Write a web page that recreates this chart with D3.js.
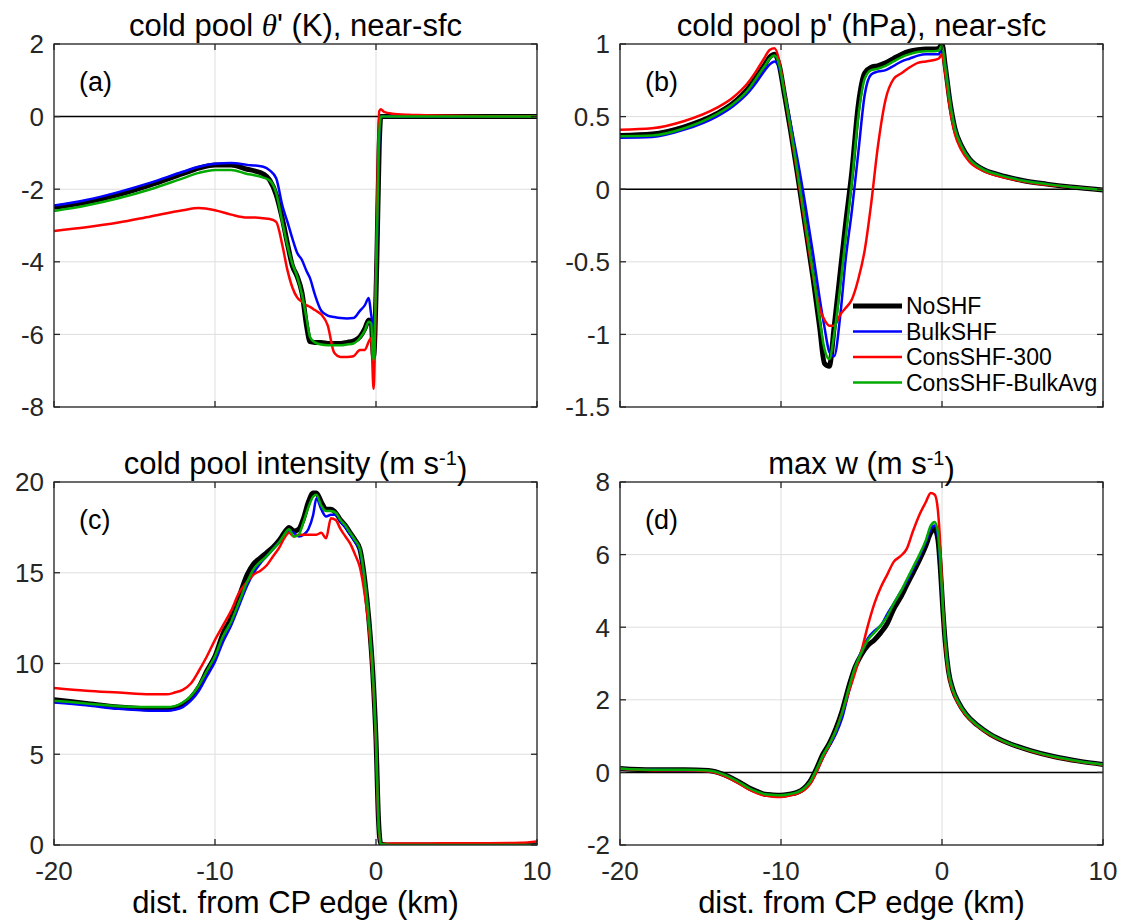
<!DOCTYPE html>
<html>
<head>
<meta charset="utf-8">
<script src="https://cdn.jsdelivr.net/npm/d3@7"></script>
<style>
  body { margin: 0; background: #fff; }
  text { font-family: "Liberation Sans", Arial, Helvetica, sans-serif; fill: #000; }
</style>
</head>
<body>
<script>
// series names / colors
const seriesNames = ['NoSHF', 'BulkSHF', 'ConsSHF-300', 'ConsSHF-BulkAvg'];
const seriesColors = ['#000000', '#0000ff', '#ff0000', '#00aa00'];
const seriesWidths = [5, 2.5, 2.5, 2.5];

// (a) near-surface theta'
const xA = [-20, -18, -16, -14, -12, -11, -10, -9, -8, -7.5, -7, -6.6, -6.2, -5.8, -5.5, -5.2, -4.9, -4.6, -4.3, -4.1, -3.8, -3.4, -3.0, -2.6, -2.2, -1.8, -1.4, -1.0, -0.7, -0.45, -0.3, -0.15, 0.05, 0.2, 0.3, 0.5, 1, 2, 3, 5, 7, 10];
const aNoSHF = [-2.5, -2.36, -2.15, -1.88, -1.57, -1.42, -1.33, -1.33, -1.45, -1.5, -1.58, -1.75, -2.15, -2.85, -3.5, -4.1, -4.4, -4.85, -5.8, -6.2, -6.22, -6.22, -6.25, -6.25, -6.25, -6.22, -6.18, -6.07, -5.85, -5.6, -5.65, -6.6, -4.0, -0.8, 0, 0, 0, 0, 0, 0, 0, 0];
const aBulk = [-2.45, -2.3, -2.08, -1.82, -1.52, -1.38, -1.3, -1.28, -1.33, -1.35, -1.38, -1.48, -1.7, -2.48, -2.9, -3.35, -3.75, -3.95, -4.27, -4.45, -4.9, -5.35, -5.48, -5.52, -5.55, -5.56, -5.55, -5.35, -5.2, -5.0, -5.45, -5.8, -3.5, -0.6, 0, 0, 0, 0, 0, 0, 0, 0];
const aCons300 = [-3.15, -3.05, -2.92, -2.75, -2.58, -2.52, -2.58, -2.7, -2.78, -2.78, -2.8, -2.82, -2.9, -3.58, -4.23, -4.7, -4.98, -5.1, -5.2, -5.24, -5.33, -5.45, -5.75, -6.5, -6.62, -6.62, -6.6, -6.43, -6.43, -6.2, -6.1, -7.5, -3.0, 0.15, 0.2, 0.13, 0.08, 0.05, 0.04, 0.02, 0.01, 0.01];
const aConsAvg = [-2.6, -2.45, -2.25, -2.0, -1.7, -1.55, -1.47, -1.47, -1.58, -1.62, -1.68, -1.76, -2.1, -2.94, -3.55, -4.05, -4.4, -4.9, -5.6, -6.07, -6.22, -6.28, -6.3, -6.3, -6.3, -6.28, -6.25, -6.1, -5.9, -5.65, -5.7, -6.7, -3.5, -0.5, 0, 0, 0, 0, 0, 0, 0, 0];

// (b) near-surface p'
const xB = [-20, -18, -16, -14, -13, -12, -11.5, -11, -10.7, -10.4, -10.1, -9.8, -9.4, -9, -8.5, -8, -7.6, -7.3, -7.0, -6.7, -6.3, -6.0, -5.6, -5.2, -4.8, -4.4, -4.0, -3.5, -3.0, -2.5, -2.0, -1.5, -1.0, -0.5, -0.2, 0, 0.2, 0.5, 0.8, 1.2, 1.7, 2.5, 3.5, 5, 6.5, 8, 10];
const bNoSHF = [0.37, 0.38, 0.43, 0.52, 0.59, 0.7, 0.78, 0.86, 0.91, 0.93, 0.85, 0.66, 0.4, 0.12, -0.25, -0.62, -0.95, -1.2, -1.22, -0.95, -0.55, -0.25, 0.12, 0.58, 0.8, 0.84, 0.85, 0.87, 0.9, 0.93, 0.95, 0.96, 0.965, 0.965, 0.97, 1.0, 0.85, 0.6, 0.42, 0.3, 0.21, 0.14, 0.1, 0.06, 0.035, 0.015, -0.005];
const bBulk = [0.355, 0.36, 0.41, 0.5, 0.57, 0.67, 0.74, 0.82, 0.86, 0.88, 0.83, 0.68, 0.45, 0.22, -0.1, -0.45, -0.75, -0.95, -1.12, -1.15, -0.85, -0.5, -0.15, 0.25, 0.65, 0.79, 0.81, 0.82, 0.85, 0.88, 0.9, 0.92, 0.93, 0.93, 0.93, 0.98, 0.85, 0.6, 0.42, 0.3, 0.21, 0.14, 0.1, 0.06, 0.035, 0.015, -0.005];
const bCons300 = [0.41, 0.42, 0.47, 0.56, 0.63, 0.74, 0.82, 0.91, 0.96, 0.97, 0.88, 0.68, 0.4, 0.12, -0.25, -0.6, -0.82, -0.9, -0.94, -0.94, -0.86, -0.82, -0.76, -0.62, -0.42, -0.1, 0.28, 0.62, 0.76, 0.8, 0.84, 0.87, 0.88, 0.89, 0.9, 0.93, 0.8, 0.55, 0.38, 0.27, 0.19, 0.13, 0.09, 0.055, 0.03, 0.015, -0.005];
const bConsAvg = [0.365, 0.37, 0.42, 0.515, 0.585, 0.69, 0.77, 0.85, 0.9, 0.92, 0.85, 0.67, 0.42, 0.14, -0.22, -0.58, -0.9, -1.1, -1.17, -1.0, -0.65, -0.35, 0.05, 0.5, 0.76, 0.82, 0.83, 0.85, 0.88, 0.91, 0.93, 0.945, 0.95, 0.95, 0.955, 0.99, 0.85, 0.6, 0.42, 0.3, 0.21, 0.14, 0.1, 0.06, 0.035, 0.015, -0.005];

// (c) cold pool intensity
const xC = [-20, -18, -16, -14, -13, -12.5, -12, -11.5, -11, -10.5, -10, -9.5, -9, -8.5, -8, -7.6, -7.2, -6.8, -6.4, -6.0, -5.7, -5.4, -5.1, -4.8, -4.5, -4.2, -3.9, -3.7, -3.4, -3.1, -2.8, -2.5, -2.2, -1.9, -1.6, -1.3, -1.0, -0.7, -0.45, -0.2, 0, 0.15, 0.3, 1, 3, 5, 7, 9, 10];
const cNoSHF = [8.0, 7.8, 7.6, 7.5, 7.5, 7.55, 7.75, 8.1, 8.7, 9.6, 10.4, 11.65, 12.5, 13.7, 14.9, 15.5, 15.8, 16.1, 16.4, 16.8, 17.2, 17.5, 17.3, 17.4, 18.0, 18.9, 19.4, 19.4, 18.9, 18.5, 18.5, 18.3, 17.9, 17.6, 17.2, 16.8, 16.3, 14.6, 12.5, 9.5, 5.8, 1.5, 0.05, 0, 0, 0, 0, 0, 0];
const cBulk = [7.85, 7.7, 7.5, 7.4, 7.4, 7.45, 7.6, 7.95, 8.5, 9.3, 10.1, 11.2, 12.1, 13.2, 14.3, 15.0, 15.5, 15.9, 16.3, 16.7, 17.0, 17.3, 17.2, 17.0, 17.1, 17.4, 18.2, 19.1, 18.5, 18.1, 18.2, 18.2, 17.8, 17.5, 17.1, 16.7, 16.2, 14.5, 12.4, 9.4, 5.6, 1.2, 0, 0, 0, 0, 0, 0, 0];
const cCons300 = [8.65, 8.5, 8.4, 8.3, 8.3, 8.4, 8.55, 8.9, 9.6, 10.4, 11.3, 12.1, 12.9, 13.9, 14.5, 14.9, 15.1, 15.4, 15.9, 16.4, 16.9, 17.2, 17.0, 17.1, 17.1, 17.1, 17.1, 17.1, 17.2, 16.9, 18.0, 17.9, 17.4, 17.0, 16.6, 16.0, 15.3, 13.8, 12.0, 9.2, 5.5, 1.2, 0.05, 0.08, 0.08, 0.1, 0.1, 0.12, 0.2];
const cConsAvg = [7.95, 7.8, 7.65, 7.6, 7.6, 7.65, 7.85, 8.2, 8.8, 9.6, 10.4, 11.5, 12.3, 13.4, 14.5, 15.2, 15.6, 15.9, 16.3, 16.7, 17.1, 17.4, 17.0, 17.1, 17.8, 18.6, 19.2, 19.3, 18.7, 18.4, 18.4, 18.3, 17.9, 17.6, 17.2, 16.8, 16.3, 14.6, 12.5, 9.5, 5.8, 1.5, 0.05, 0, 0, 0, 0, 0, 0];

// (d) max w
const xD = [-20, -18, -16, -14.5, -13.5, -12.75, -12, -11.5, -11, -10.5, -10, -9.5, -9, -8.6, -8.2, -7.8, -7.4, -7, -6.6, -6.2, -5.8, -5.4, -5.0, -4.6, -4.2, -3.8, -3.4, -3.0, -2.6, -2.2, -1.8, -1.4, -1.0, -0.7, -0.45, -0.25, -0.1, 0.05, 0.2, 0.4, 0.7, 1.0, 1.5, 2.2, 3, 4, 5.5, 7, 8.5, 10];
const dNoSHF = [0.11, 0.07, 0.07, 0.05, -0.07, -0.23, -0.42, -0.52, -0.6, -0.62, -0.63, -0.6, -0.55, -0.45, -0.25, 0.1, 0.5, 0.8, 1.2, 1.7, 2.35, 2.9, 3.25, 3.5, 3.65, 3.85, 4.1, 4.5, 4.8, 5.15, 5.5, 5.85, 6.25, 6.6, 6.7, 6.4, 5.6, 4.5, 3.6, 2.8, 2.25, 1.95, 1.6, 1.3, 1.05, 0.83, 0.6, 0.43, 0.31, 0.22];
const dBulk = [0.1, 0.07, 0.06, 0.04, -0.08, -0.25, -0.44, -0.54, -0.61, -0.63, -0.64, -0.61, -0.56, -0.47, -0.3, 0.02, 0.4, 0.72, 1.05, 1.5, 2.2, 2.85, 3.35, 3.7, 3.9, 4.05, 4.36, 4.65, 4.95, 5.25, 5.6, 5.95, 6.35, 6.7, 6.8, 6.5, 5.7, 4.55, 3.65, 2.8, 2.25, 1.95, 1.6, 1.3, 1.05, 0.83, 0.6, 0.43, 0.31, 0.22];
const dCons300 = [0.1, 0.06, 0.06, 0.03, -0.1, -0.27, -0.47, -0.57, -0.64, -0.67, -0.68, -0.64, -0.58, -0.5, -0.33, 0.0, 0.4, 0.75, 1.15, 1.65, 2.2, 2.75, 3.35, 4.05, 4.65, 5.1, 5.45, 5.8, 5.95, 6.15, 6.65, 7.1, 7.45, 7.7, 7.65, 7.2, 6.2, 4.6, 3.5, 2.7, 2.2, 1.9, 1.57, 1.28, 1.03, 0.82, 0.59, 0.42, 0.3, 0.21];
const dConsAvg = [0.11, 0.07, 0.07, 0.05, -0.07, -0.23, -0.43, -0.53, -0.6, -0.62, -0.63, -0.6, -0.55, -0.45, -0.26, 0.08, 0.47, 0.78, 1.15, 1.65, 2.3, 2.9, 3.3, 3.65, 3.85, 4.05, 4.3, 4.65, 4.95, 5.3, 5.65, 6.0, 6.4, 6.8, 6.9, 6.6, 5.75, 4.6, 3.65, 2.8, 2.25, 1.95, 1.6, 1.3, 1.05, 0.83, 0.6, 0.43, 0.31, 0.22];

const xTicks = [-20, -10, 0, 10];

const W = 1123, H = 921;
const svg = d3.select('body').append('svg')
  .attr('width', W).attr('height', H)
  .style('background', '#fff');

const panels = [
  { id: 'a', left: 54, right: 537, top: 44, bottom: 407, ydom: [-8, 2], yticks: [-8, -6, -4, -2, 0, 2],
    x: xA, ys: [aNoSHF, aBulk, aCons300, aConsAvg], zero: true, xlab: false },
  { id: 'b', left: 620, right: 1103, top: 44, bottom: 407, ydom: [-1.5, 1], yticks: [-1.5, -1, -0.5, 0, 0.5, 1],
    x: xB, ys: [bNoSHF, bBulk, bCons300, bConsAvg], zero: true, xlab: false, legend: true },
  { id: 'c', left: 54, right: 537, top: 482, bottom: 845, ydom: [0, 20], yticks: [0, 5, 10, 15, 20],
    x: xC, ys: [cNoSHF, cBulk, cCons300, cConsAvg], zero: false, xlab: true },
  { id: 'd', left: 620, right: 1103, top: 482, bottom: 845, ydom: [-2, 8], yticks: [-2, 0, 2, 4, 6, 8],
    x: xD, ys: [dNoSHF, dBulk, dCons300, dConsAvg], zero: true, xlab: true }
];

const axisColor = '#262626';
const gridColor = '#dedede';
const tickLen = 6;

panels.forEach((p) => {
  const xScale = d3.scaleLinear().domain([-20, 10]).range([p.left, p.right]);
  const yScale = d3.scaleLinear().domain(p.ydom).range([p.bottom, p.top]);
  const g = svg.append('g').attr('class', 'panel-' + p.id);

  g.append('clipPath').attr('id', 'clip-' + p.id)
    .append('rect')
    .attr('x', p.left).attr('y', p.top)
    .attr('width', p.right - p.left).attr('height', p.bottom - p.top);

  // grid
  g.selectAll('.gx').data(xTicks).enter().append('line')
    .attr('x1', (d) => xScale(d)).attr('x2', (d) => xScale(d))
    .attr('y1', p.top).attr('y2', p.bottom)
    .attr('stroke', gridColor).attr('stroke-width', 1);
  g.selectAll('.gy').data(p.yticks).enter().append('line')
    .attr('x1', p.left).attr('x2', p.right)
    .attr('y1', (d) => yScale(d)).attr('y2', (d) => yScale(d))
    .attr('stroke', gridColor).attr('stroke-width', 1);

  if (p.zero) {
    g.append('line')
      .attr('x1', p.left).attr('x2', p.right)
      .attr('y1', yScale(0)).attr('y2', yScale(0))
      .attr('stroke', '#000').attr('stroke-width', 1.5);
  }

  // data lines
  const plot = g.append('g').attr('clip-path', 'url(#clip-' + p.id + ')');
  p.ys.forEach((ys, i) => {
    const line = d3.line()
      .x((d, j) => xScale(p.x[j]))
      .y((d) => yScale(d))
      .curve(d3.curveMonotoneX);
    plot.append('path')
      .datum(ys)
      .attr('d', line)
      .attr('fill', 'none')
      .attr('stroke', seriesColors[i])
      .attr('stroke-width', seriesWidths[i])
      .attr('stroke-linejoin', 'round');
  });

  // box and inward ticks
  g.append('rect')
    .attr('x', p.left).attr('y', p.top)
    .attr('width', p.right - p.left).attr('height', p.bottom - p.top)
    .attr('fill', 'none').attr('stroke', axisColor).attr('stroke-width', 1.3);

  xTicks.forEach((t) => {
    const x = xScale(t);
    g.append('line').attr('x1', x).attr('x2', x).attr('y1', p.bottom).attr('y2', p.bottom - tickLen)
      .attr('stroke', axisColor).attr('stroke-width', 1.3);
    g.append('line').attr('x1', x).attr('x2', x).attr('y1', p.top).attr('y2', p.top + tickLen)
      .attr('stroke', axisColor).attr('stroke-width', 1.3);
  });
  p.yticks.forEach((t) => {
    const y = yScale(t);
    g.append('line').attr('x1', p.left).attr('x2', p.left + tickLen).attr('y1', y).attr('y2', y)
      .attr('stroke', axisColor).attr('stroke-width', 1.3);
    g.append('line').attr('x1', p.right).attr('x2', p.right - tickLen).attr('y1', y).attr('y2', y)
      .attr('stroke', axisColor).attr('stroke-width', 1.3);
  });

  // y tick labels
  g.selectAll('.ylab').data(p.yticks).enter().append('text')
    .attr('x', p.left - 10)
    .attr('y', (d) => yScale(d))
    .attr('dy', '0.36em')
    .attr('text-anchor', 'end')
    .style('font-size', '26px')
    .style('fill', axisColor)
    .text((d) => String(d));

  if (p.xlab) {
    g.selectAll('.xlab').data(xTicks).enter().append('text')
      .attr('x', (d) => xScale(d))
      .attr('y', p.bottom + 35)
      .attr('text-anchor', 'middle')
      .style('font-size', '26px')
      .style('fill', axisColor)
      .text((d) => String(d));
    g.append('text')
      .attr('x', (p.left + p.right) / 2)
      .attr('y', p.bottom + 68)
      .attr('text-anchor', 'middle')
      .style('font-size', '31px')
      .text('dist. from CP edge (km)');
  }

  // panel letter
  g.append('text')
    .attr('x', p.left + 25)
    .attr('y', p.top + 47)
    .style('font-size', '27px')
    .text('(' + p.id + ')');

  if (p.legend) {
    const lg = g.append('g');
    seriesNames.forEach((name, i) => {
      const y = 306 + i * 25.5;
      lg.append('line')
        .attr('x1', 853).attr('x2', 902).attr('y1', y).attr('y2', y)
        .attr('stroke', seriesColors[i]).attr('stroke-width', seriesWidths[i]);
      lg.append('text')
        .attr('x', 906).attr('y', y).attr('dy', '0.35em')
        .style('font-size', '23px')
        .text(name);
    });
  }
});

// titles
function title(cx, y) {
  return svg.append('text').attr('x', cx).attr('y', y)
    .attr('text-anchor', 'middle').style('font-size', '31px');
}
const tA = title((54 + 537) / 2, 36);
tA.append('tspan').text('cold pool ');
tA.append('tspan').style('font-family', '"Liberation Serif", "Times New Roman", serif').style('font-style', 'italic').text('θ');
tA.append('tspan').text("' (K), near-sfc");

title((620 + 1103) / 2, 36).text("cold pool p' (hPa), near-sfc");

const tC = title((54 + 537) / 2, 474);
tC.append('tspan').text('cold pool intensity (m s');
tC.append('tspan').attr('dy', '-0.45em').style('font-size', '20px').text('-1');
tC.append('tspan').attr('dy', '0.45em').text(')');

const tD = title((620 + 1103) / 2, 474);
tD.append('tspan').text('max w (m s');
tD.append('tspan').attr('dy', '-0.45em').style('font-size', '20px').text('-1');
tD.append('tspan').attr('dy', '0.45em').text(')');
</script>
</body>
</html>
